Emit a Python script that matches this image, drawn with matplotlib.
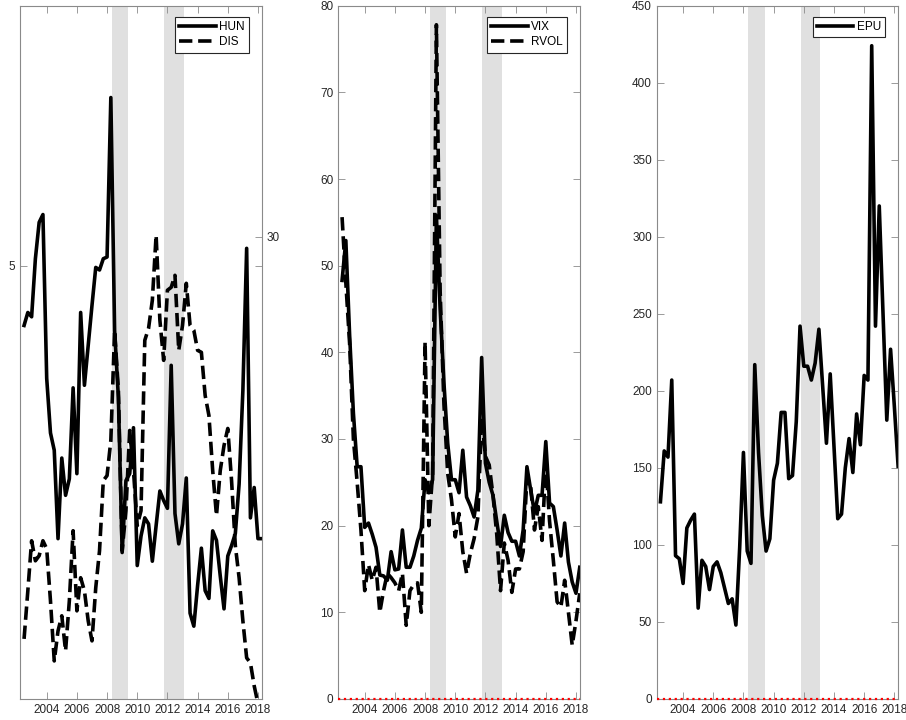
import numpy as np
import matplotlib.pyplot as plt

plt.rcParams['font.family'] = ['Liberation Sans', 'DejaVu Sans']
plt.rcParams['font.size'] = 8.5

# quarterly observations, 2002Q3 .. 2018Q2
dates = 2002.5 + 0.25 * np.arange(64)

hun = [4.31, 4.46, 4.41, 5.08, 5.50, 5.59, 3.70, 3.07, 2.87, 1.85,
       2.78, 2.35, 2.54, 3.59, 2.60, 4.46, 3.62, 4.08, 4.54, 4.98,
       4.95, 5.08, 5.10, 6.94, 4.25, 3.48, 1.69, 2.52, 2.60, 3.13,
       1.54, 1.88, 2.09, 2.02, 1.59, 2.00, 2.40, 2.29, 2.20, 3.85,
       2.14, 1.79, 2.02, 2.55, 0.99, 0.84, 1.31, 1.74, 1.25, 1.16,
       1.94, 1.83, 1.42, 1.04, 1.65, 1.77, 1.91, 2.48, 3.56, 5.20,
       2.09, 2.44, 1.85, 1.85]
dis = [3.90, 7.02, 10.27, 8.97, 9.30, 10.27, 9.75, 6.37, 2.47, 4.42,
       5.40, 3.12, 6.37, 10.92, 5.72, 7.87, 7.02, 5.07, 3.77, 7.22,
       9.62, 14.17, 14.50, 16.78, 23.93, 20.03, 9.62, 12.22, 17.43, 14.82,
       11.25, 12.22, 23.28, 24.06, 25.88, 30.10, 24.58, 21.98, 26.53, 26.72,
       27.50, 22.63, 24.25, 26.98, 24.25, 23.93, 22.63, 22.50, 19.70, 18.40,
       14.82, 11.90, 14.82, 16.45, 17.56, 14.17, 9.95, 7.87, 5.07, 2.67,
       2.34, 0.85, -0.3, -0.6]
vix = [48.3, 52.9, 42.0, 33.0, 26.8, 26.8, 19.8, 20.3, 19.0, 17.5,
       14.3, 14.2, 13.7, 17.0, 14.9, 15.0, 19.5, 15.2, 15.2, 16.5,
       18.3, 19.7, 25.3, 23.8, 25.3, 55.8, 45.0, 36.5, 29.5, 25.3,
       25.3, 23.8, 28.7, 23.3, 22.3, 21.0, 24.1, 39.4, 27.2, 25.0,
       23.5, 20.5, 17.6, 21.2, 19.2, 18.2, 18.2, 16.5, 19.5, 26.8,
       24.1, 21.5, 23.5, 23.5, 29.7, 22.6, 22.2, 19.5, 16.5, 20.3,
       15.8, 13.5, 12.2, 15.2]
rvol = [55.6, 48.0, 41.0, 30.0, 25.0, 19.5, 12.5, 15.5, 13.7, 15.2,
        10.0, 12.5, 14.5, 14.0, 13.4, 12.5, 14.5, 8.5, 12.5, 13.2,
        13.4, 10.0, 41.2, 20.0, 26.0, 77.8, 47.0, 34.0, 26.0, 23.0,
        18.7, 21.4, 17.0, 14.5, 16.8, 18.5, 21.0, 32.5, 28.0, 27.0,
        23.5, 19.0, 12.5, 18.0, 16.0, 12.3, 15.0, 15.0, 17.0, 25.6,
        24.5, 19.5, 22.2, 18.3, 27.2, 20.5, 16.0, 11.2, 10.6, 13.7,
        10.0, 6.2, 9.0, 12.2]
epu = [128, 161, 157, 207, 93, 91, 75, 111, 116, 120,
       59, 90, 86, 71, 86, 89, 82, 72, 62, 65,
       48, 98, 160, 96, 88, 217, 160, 119, 96, 104,
       142, 153, 186, 186, 143, 145, 180, 242, 216, 216,
       207, 218, 240, 203, 166, 211, 164, 117, 120, 150,
       169, 147, 185, 165, 210, 207, 424, 242, 320, 250,
       181, 227, 190, 151]

recessions = [(2008.3, 2009.4), (2011.8, 2013.1)]
year_ticks = list(range(2004, 2019, 2))

fig = plt.figure(figsize=(9.06, 7.2), dpi=100)
left = [0.0224, 0.3734, 0.7248]
axes = [fig.add_axes([l, 0.0292, 0.2665, 0.9629]) for l in left]


def style(ax):
    ax.set_xlim(2002.25, 2018.25)
    ax.set_xticks(year_ticks)
    ax.tick_params(direction='in', top=True, right=True, length=5, width=0.6,
                   color='#8a8a8a', labelcolor='#262626', labelsize=8.5)
    for s in ax.spines.values():
        s.set_color('#8a8a8a')
        s.set_linewidth(0.8)
    for a, b in recessions:
        ax.axvspan(a, b, color='#e0e0e0', lw=0, zorder=0)


def legend(ax, handles):
    lg = ax.legend(handles=handles, loc='upper right', bbox_to_anchor=(0.947, 0.984),
                   borderaxespad=0, fancybox=False, handlelength=3.1, handletextpad=0.3,
                   borderpad=0.35, labelspacing=0.3, fontsize=8.5, framealpha=1)
    lg.get_frame().set_edgecolor('#262626')
    lg.get_frame().set_linewidth(0.8)


# panel 1: HUN (left axis) and DIS (right axis)
ax1 = axes[0]
style(ax1)
ax1.set_ylim(0, 8)
ax1.set_yticks([5])
l1, = ax1.plot(dates, hun, color='k', lw=2.6, label='HUN')
ax1b = ax1.twinx()
ax1b.set_ylim(0, 45)
ax1b.set_yticks([30])
ax1b.tick_params(direction='in', length=5, width=0.6, color='#8a8a8a',
                 labelcolor='#262626', labelsize=8.5)
for s in ax1b.spines.values():
    s.set_visible(False)
l2, = ax1b.plot(dates, dis, color='k', lw=2.6, ls='--', label='DIS')
ax1.tick_params(right=True, labelright=False)
legend(ax1b, [l1, l2])

# panel 2: VIX and RVOL
ax2 = axes[1]
style(ax2)
ax2.set_ylim(0, 80)
ax2.set_yticks(range(0, 81, 10))
v1, = ax2.plot(dates, vix, color='k', lw=2.6, label='VIX')
v2, = ax2.plot(dates, rvol, color='k', lw=2.6, ls='--', label='RVOL')
ax2.plot([2002.25, 2018.25], [0, 0], color='red', ls=':', lw=1.6, clip_on=False, zorder=5)
legend(ax2, [v1, v2])

# panel 3: EPU
ax3 = axes[2]
style(ax3)
ax3.set_ylim(0, 450)
ax3.set_yticks(range(0, 451, 50))
e1, = ax3.plot(dates, epu, color='k', lw=2.6, label='EPU')
ax3.plot([2002.25, 2018.25], [0, 0], color='red', ls=':', lw=1.6, clip_on=False, zorder=5)
legend(ax3, [e1])

fig.savefig('out.png', dpi=100)
